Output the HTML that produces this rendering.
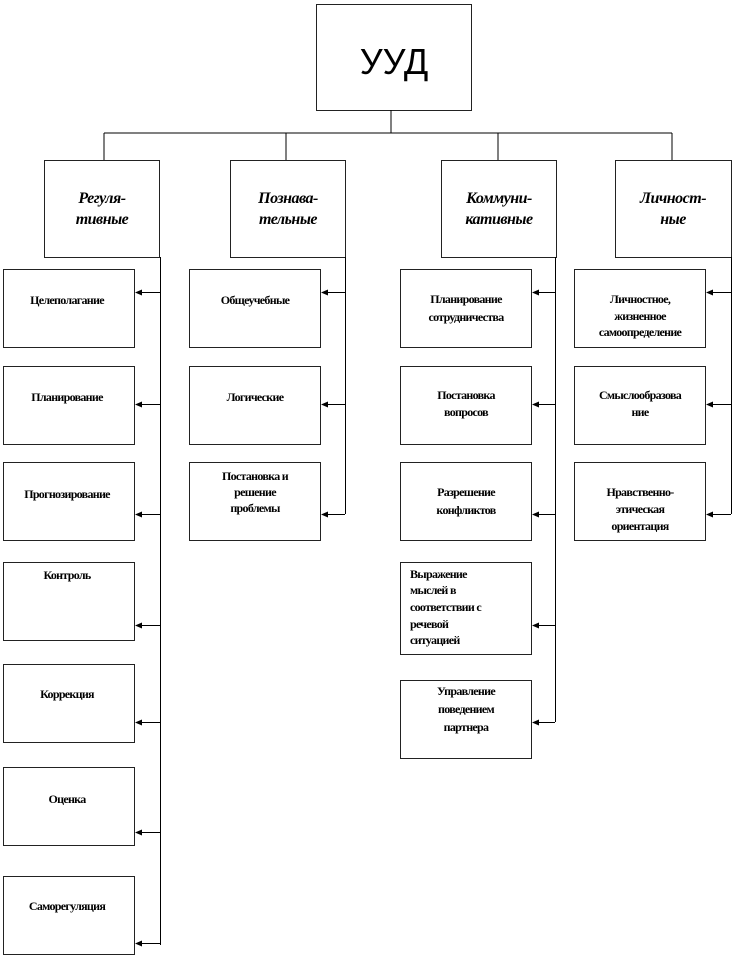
<!DOCTYPE html>
<html><head><meta charset="utf-8"><style>
html,body{margin:0;padding:0;background:#fff;}
svg{display:block}
.b{fill:#fff;stroke:#222;stroke-width:1}
.l{stroke:#000;stroke-width:1;fill:none}
.t{font-family:"Liberation Serif","DejaVu Serif",serif;font-weight:bold;font-size:12px;letter-spacing:-0.7px;text-anchor:middle;fill:#000}
.h{font-family:"Liberation Serif","DejaVu Serif",serif;font-weight:bold;font-style:italic;font-size:16px;text-anchor:middle;fill:#000;letter-spacing:-0.5px}
</style></head><body>
<svg width="733" height="957" viewBox="0 0 733 957" xmlns="http://www.w3.org/2000/svg">
<rect class="b" x="316.5" y="4.5" width="155" height="106"/>
<text x="394" y="74" font-family="Liberation Sans,sans-serif" font-size="36" text-anchor="middle">УУД</text>
<path class="l" d="M391 110V133M104 133H672M104 133V160M286 133V160M498 133V160M672 133V160"/>
<rect class="b" x="44.5" y="160.5" width="115" height="97"/>
<rect class="b" x="230.5" y="160.5" width="115" height="97"/>
<rect class="b" x="441.5" y="160.5" width="115" height="97"/>
<rect class="b" x="615.5" y="160.5" width="116" height="97"/>
<text class="h" x="102" y="203">Регуля-</text><text class="h" x="102" y="224">тивные</text>
<text class="h" x="288" y="203">Познава-</text><text class="h" x="288" y="224">тельные</text>
<text class="h" x="499" y="203">Коммуни-</text><text class="h" x="499" y="224">кативные</text>
<text class="h" x="673" y="203">Личност-</text><text class="h" x="673" y="224">ные</text>
<path class="l" d="M160.5 257V945M345.5 257V514M555.5 257V722M731.5 257V514"/>
<rect class="b" x="3.5" y="269.5" width="131" height="78"/><text class="t" x="67" y="304">Целеполагание</text>
<rect class="b" x="3.5" y="366.5" width="131" height="78"/><text class="t" x="67" y="401">Планирование</text>
<rect class="b" x="3.5" y="462.5" width="131" height="78"/><text class="t" x="67" y="498">Прогнозирование</text>
<rect class="b" x="3.5" y="562.5" width="131" height="78"/><text class="t" x="67" y="579">Контроль</text>
<rect class="b" x="3.5" y="664.5" width="131" height="78"/><text class="t" x="67" y="698">Коррекция</text>
<rect class="b" x="3.5" y="767.5" width="131" height="78"/><text class="t" x="67" y="803">Оценка</text>
<rect class="b" x="3.5" y="876.5" width="131" height="78"/><text class="t" x="67" y="910">Саморегуляция</text>
<rect class="b" x="189.5" y="269.5" width="131" height="78"/><text class="t" x="255" y="304">Общеучебные</text>
<rect class="b" x="189.5" y="366.5" width="131" height="78"/><text class="t" x="255" y="401">Логические</text>
<rect class="b" x="189.5" y="462.5" width="131" height="78"/><text class="t" x="255" y="480">Постановка и</text><text class="t" x="255" y="496">решение</text><text class="t" x="255" y="512">проблемы</text>
<rect class="b" x="400.5" y="269.5" width="131" height="78"/><text class="t" x="466" y="303">Планирование</text><text class="t" x="466" y="321">сотрудничества</text>
<rect class="b" x="400.5" y="366.5" width="131" height="78"/><text class="t" x="466" y="399">Постановка</text><text class="t" x="466" y="416">вопросов</text>
<rect class="b" x="400.5" y="462.5" width="131" height="78"/><text class="t" x="466" y="496">Разрешение</text><text class="t" x="466" y="514">конфликтов</text>
<rect class="b" x="400.5" y="562.5" width="131" height="92"/>
<text class="t" style="text-anchor:start" x="410" y="578">Выражение</text><text class="t" style="text-anchor:start" x="410" y="594">мыслей в</text><text class="t" style="text-anchor:start" x="410" y="611">соответствии с</text><text class="t" style="text-anchor:start" x="410" y="628">речевой</text><text class="t" style="text-anchor:start" x="410" y="644">ситуацией</text>
<rect class="b" x="400.5" y="680.5" width="131" height="78"/><text class="t" x="466" y="695">Управление</text><text class="t" x="466" y="713">поведением</text><text class="t" x="466" y="731">партнера</text>
<rect class="b" x="574.5" y="269.5" width="131" height="78"/><text class="t" x="640" y="303">Личностное,</text><text class="t" x="640" y="320">жизненное</text><text class="t" x="640" y="336">самоопределение</text>
<rect class="b" x="574.5" y="366.5" width="131" height="78"/><text class="t" x="640" y="399">Смыслообразова</text><text class="t" x="640" y="416">ние</text>
<rect class="b" x="574.5" y="462.5" width="131" height="78"/><text class="t" x="640" y="496">Нравственно-</text><text class="t" x="640" y="513">этическая</text><text class="t" x="640" y="530">ориентация</text>
<!-- arrows -->
<g>
<path class="l" d="M160 292.5H140M160 404.5H140M160 514.5H140M160 625.5H140M160 722.5H140M160 832.5H140M160 943.5H140"/>
<path d="M135 292.5l7-3v6zM135 404.5l7-3v6zM135 514.5l7-3v6zM135 625.5l7-3v6zM135 722.5l7-3v6zM135 832.5l7-3v6zM135 943.5l7-3v6z" fill="#000"/>
<path class="l" d="M345 292.5H326M345 404.5H326M345 514.5H326"/>
<path d="M321 292.5l7-3v6zM321 404.5l7-3v6zM321 514.5l7-3v6z" fill="#000"/>
<path class="l" d="M555 292.5H537M555 404.5H537M555 514.5H537M555 625.5H537M555 722.5H537"/>
<path d="M532 292.5l7-3v6zM532 404.5l7-3v6zM532 514.5l7-3v6zM532 625.5l7-3v6zM532 722.5l7-3v6z" fill="#000"/>
<path class="l" d="M731 292.5H711M731 404.5H711M731 514.5H711"/>
<path d="M706 292.5l7-3v6zM706 404.5l7-3v6zM706 514.5l7-3v6z" fill="#000"/>
</g>
</svg>
</body></html>
